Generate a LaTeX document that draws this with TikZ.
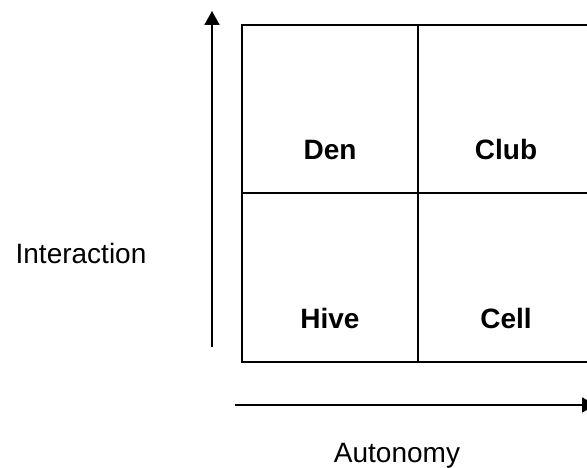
\documentclass[tikz,border=0pt]{standalone}
\usepackage{fontspec}
\setmainfont{Liberation Sans}
\usetikzlibrary{arrows.meta}
\begin{document}
\begin{tikzpicture}[x=1pt,y=-1pt,
  gridline/.style={line width=1.7pt},
  axis/.style={line width=1.7pt,-{Triangle[length=14pt,width=15pt]}},
  quadrant/.style={anchor=base,font=\bfseries\fontsize{28}{34}\selectfont},
  axislabel/.style={anchor=base,font=\fontsize{28}{34}\selectfont}]
  \clip (0,0) rectangle (587,468);
  \useasboundingbox (0,0) rectangle (587,468);
  % grid corners
  \coordinate (TL) at (242,25);
  \coordinate (BR) at (594,362);
  \coordinate (M) at (418,193);
  \draw[gridline] (TL) rectangle (BR);
  \draw[gridline] (TL -| M) -- (BR -| M);
  \draw[gridline] (TL |- M) -- (BR |- M);
  % axes
  \coordinate (Y0) at (212,347);
  \coordinate (Y1) at (212,11);
  \coordinate (X0) at (235,405);
  \coordinate (X1) at (596,405);
  \draw[axis] (Y0) -- (Y1);
  \draw[axis] (X0) -- (X1);
  \node[axislabel] (interaction) at (81,263) {Interaction};
  \node[axislabel] (autonomy) at (397,462) {Autonomy};
  % quadrants
  \node[quadrant] (den) at (330,160) {Den};
  \node[quadrant] (club) at (506,160) {Club};
  \node[quadrant] (hive) at (330,328) {Hive};
  \node[quadrant] (cell) at (506,328) {Cell};
\end{tikzpicture}
\end{document}
